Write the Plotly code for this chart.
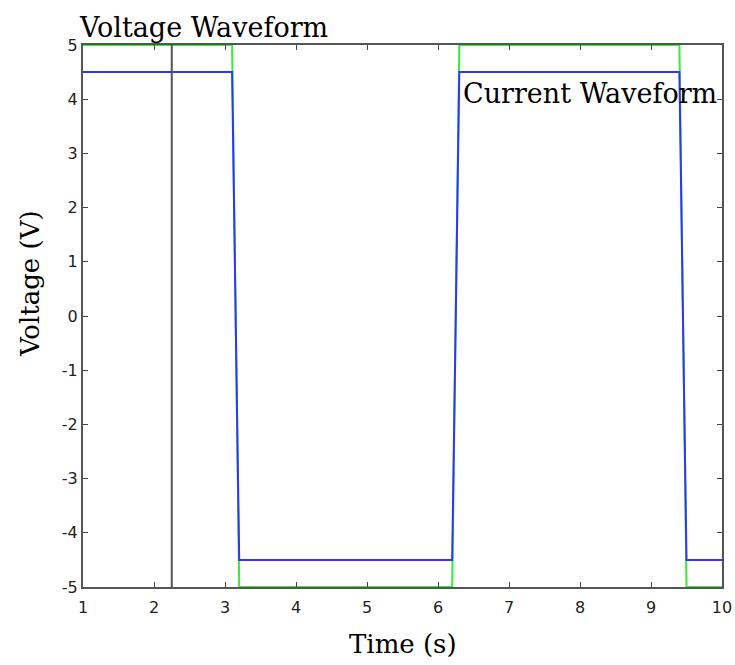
import plotly.graph_objects as go

# Breakpoints of the square waveforms (time in s)
time_pts = [1, 3.1, 3.2, 6.2, 6.3, 9.4, 9.5, 10]
voltage_vals = [5, 5, -5, -5, 5, 5, -5, -5]
current_vals = [4.5, 4.5, -4.5, -4.5, 4.5, 4.5, -4.5, -4.5]
marker_time = 2.25
x_ticks = [1, 2, 3, 4, 5, 6, 7, 8, 9, 10]
y_ticks = [-5, -4, -3, -2, -1, 0, 1, 2, 3, 4, 5]
y_ticklabels = ["-5", "-4", "-3", "-2", "-1", "0", "1", "2", "3", "4", "5"]

fig = go.Figure()
fig.add_trace(go.Scatter(x=time_pts, y=voltage_vals, mode="lines",
                         line=dict(color="#33ee33", width=2), showlegend=False))
fig.add_trace(go.Scatter(x=time_pts, y=current_vals, mode="lines",
                         line=dict(color="#3333ff", width=2), showlegend=False))
fig.add_trace(go.Scatter(x=[marker_time, marker_time], y=[-5, 5], mode="lines",
                         line=dict(color="#555555", width=2), showlegend=False))

serif = "DejaVu Serif, serif"
fig.update_layout(
    width=735, height=665,
    margin=dict(l=83, r=13, t=45, b=78, autoexpand=False),
    paper_bgcolor="white", plot_bgcolor="white",
    font=dict(family="DejaVu Sans", size=16, color="#222222"),
    xaxis=dict(range=[1, 10], tickvals=x_ticks, ticks="inside", ticklen=5,
               showline=True, mirror="ticks", linecolor="#555555", linewidth=2,
               showgrid=False, zeroline=False, automargin=False,
               ticklabeloverflow="allow", ticklabelstandoff=5),
    yaxis=dict(range=[-5, 5], tickvals=y_ticks, ticktext=y_ticklabels,
               ticks="inside", ticklen=5, automargin=False,
               showline=True, mirror="ticks", linecolor="#555555", linewidth=2,
               showgrid=False, zeroline=False),
    annotations=[
        dict(text="Voltage Waveform", xref="paper", yref="paper", x=-0.01, y=1.0,
             xanchor="left", yanchor="bottom", showarrow=False,
             font=dict(family=serif, size=27, color="black")),
        dict(text="Current Waveform", xref="x", yref="y", x=6.33, y=4.1,
             xanchor="left", yanchor="middle", showarrow=False,
             font=dict(family=serif, size=27, color="black")),
        dict(text="Time (s)", xref="paper", yref="paper", x=0.5, y=-0.105,
             xanchor="center", yanchor="middle", showarrow=False,
             font=dict(family=serif, size=26, color="black")),
        dict(text="Voltage (V)", xref="paper", yref="paper", x=-0.082, y=0.56,
             xanchor="center", yanchor="middle", showarrow=False, textangle=-90,
             font=dict(family=serif, size=26, color="black")),
    ],
)
fig.write_html("out.html")
